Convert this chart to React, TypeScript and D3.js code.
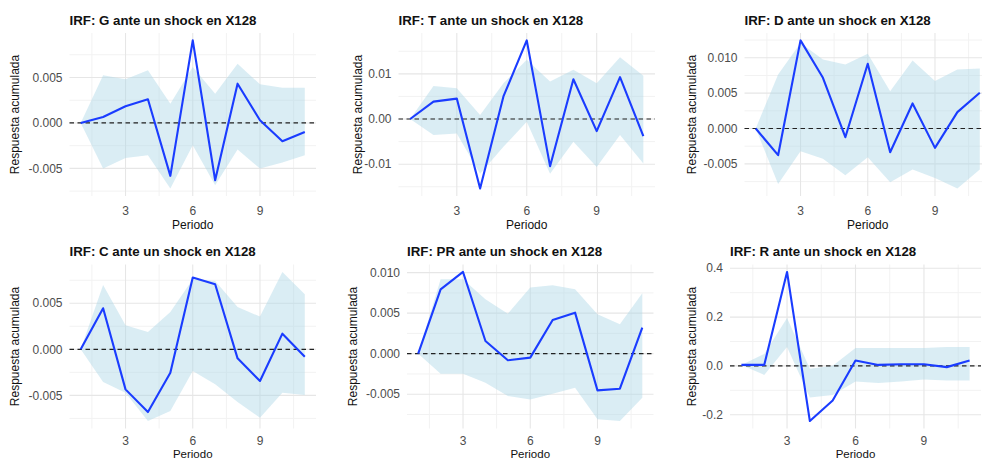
import React from "react";
import * as d3 from "d3";

const periods = [1, 2, 3, 4, 5, 6, 7, 8, 9, 10, 11];
const xTicks = [3, 6, 9];
const xMinor = [1.5, 4.5, 7.5, 10.5];

// G
const gLine = [0, 0.00066, 0.00183, 0.0026, -0.00582, 0.00908, -0.0063, 0.00432, 0.0003, -0.00201, -0.00099];
const gUpper = [0, 0.00524, 0.0048, 0.00579, 0.00212, 0.00615, 0.00322, 0.00652, 0.00425, 0.00388, 0.00388];
const gLower = [0, -0.00502, -0.00385, -0.00355, -0.00722, -0.00245, -0.00685, -0.00293, -0.00502, -0.00436, -0.00355];
// T
const tLine = [0, 0.00385, 0.00452, -0.0154, 0.005, 0.0174, -0.01044, 0.00881, -0.00267, 0.00926, -0.00378];
const tUpper = [0, 0.00733, 0.00681, 0.00089, 0.0079, 0.0131, 0.0083, 0.0109, 0.0079, 0.0137, 0.0096];
const tLower = [0, -0.00356, -0.00319, -0.0121, -0.00615, -0.00059, -0.0121, -0.00504, -0.0106, -0.00356, -0.00985];
// D
const dLine = [0, -0.00377, 0.01245, 0.00717, -0.00123, 0.00915, -0.00335, 0.00354, -0.00274, 0.00231, 0.00505];
const dUpper = [0, 0.00764, 0.0121, 0.00976, 0.00906, 0.01057, 0.00528, 0.00962, 0.0067, 0.00835, 0.00849];
const dLower = [0, -0.00783, -0.00321, -0.00429, -0.0066, -0.00406, -0.0076, -0.0058, -0.00698, -0.00849, -0.0058];
// C
const cLine = [0, 0.00446, -0.00435, -0.00681, -0.00254, 0.00779, 0.00707, -0.00098, -0.00344, 0.0017, -0.0008];
const cUpper = [0, 0.00699, 0.00261, 0.00188, 0.00406, 0.0076, 0.00743, 0.0046, 0.00355, 0.0084, 0.00598];
const cLower = [0, -0.00355, -0.00471, -0.00779, -0.0067, -0.00236, -0.0038, -0.00572, -0.00743, -0.00471, -0.00496];
// PR
const prLine = [0, 0.00794, 0.01008, 0.00156, -0.00082, -0.00049, 0.00416, 0.00506, -0.00453, -0.00432, 0.00321];
const prUpper = [0, 0.00918, 0.00918, 0.00671, 0.00494, 0.00815, 0.00844, 0.00794, 0.00486, 0.00362, 0.00745];
const prLower = [0, -0.00247, -0.00247, -0.00358, -0.00523, -0.00564, -0.00494, -0.0042, -0.0081, -0.00831, -0.00543];
// R
const rLine = [0.004, 0.004, 0.385, -0.226, -0.142, 0.022, 0.004, 0.007, 0.007, -0.005, 0.022];
const rUpper = [0.004, 0.049, 0.196, -0.012, 0.001, 0.073, 0.073, 0.073, 0.073, 0.077, 0.077];
const rLower = [0.004, -0.037, 0.077, -0.129, -0.119, -0.064, -0.07, -0.064, -0.056, -0.06, -0.06];

const ticksSmall = [-0.005, 0, 0.005];
const labelsSmall = ["-0.005", "0.000", "0.005"];
const ticksT = [-0.01, 0, 0.01];
const labelsT = ["-0.01", "0.00", "0.01"];
const ticksMid = [-0.005, 0, 0.005, 0.01];
const labelsMid = ["-0.005", "0.000", "0.005", "0.010"];
const ticksR = [-0.2, 0, 0.2, 0.4];
const labelsR = ["-0.2", "0.0", "0.2", "0.4"];

const titles = [
  "IRF: G ante un shock en X128",
  "IRF: T ante un shock en X128",
  "IRF: D ante un shock en X128",
  "IRF: C ante un shock en X128",
  "IRF: PR ante un shock en X128",
  "IRF: R ante un shock en X128",
];

type Spec = {
  title: string;
  line: number[];
  upper: number[];
  lower: number[];
  yTicks: number[];
  yLabels: string[];
  left: number;
  right: number;
  top: number;
  bottom: number;
  yTitleX: number;
  xTickOff: number;
  xTitleOff: number;
  xTitleSize: number;
};

const FONT = "'Liberation Sans', Arial, sans-serif";

function Panel({ s }: { s: Spec }) {
  const xExt = d3.extent(periods) as [number, number];
  const xPad = (xExt[1] - xExt[0]) * 0.05;
  const x = d3.scaleLinear().domain([xExt[0] - xPad, xExt[1] + xPad]).range([s.left, s.right]);
  const all = [...s.line, ...s.upper, ...s.lower];
  const yExt = d3.extent(all) as [number, number];
  const yPad = (yExt[1] - yExt[0]) * 0.05;
  const y = d3.scaleLinear().domain([yExt[0] - yPad, yExt[1] + yPad]).range([s.bottom, s.top]);
  const step = s.yTicks[1] - s.yTicks[0];
  const yMinor: number[] = [];
  for (let i = -1; i < s.yTicks.length; i++) {
    const v = s.yTicks[0] + step * (i + 0.5);
    const [a, b] = y.domain();
    if (v >= a && v <= b) yMinor.push(v);
  }
  const area = d3
    .area<number>()
    .x((_, i) => x(periods[i]))
    .y0((_, i) => y(s.lower[i]))
    .y1((_, i) => y(s.upper[i]));
  const line = d3
    .line<number>()
    .x((_, i) => x(periods[i]))
    .y((d) => y(d));
  const cy = (s.top + s.bottom) / 2;
  return (
    <g>
      {yMinor.map((v) => (
        <line key={"ym" + v} x1={s.left} x2={s.right} y1={y(v)} y2={y(v)} stroke="#f2f2f2" strokeWidth={1} />
      ))}
      {xMinor.map((v) => (
        <line key={"xm" + v} y1={s.top} y2={s.bottom} x1={x(v)} x2={x(v)} stroke="#f2f2f2" strokeWidth={1} />
      ))}
      {s.yTicks.map((v) => (
        <line key={"yM" + v} x1={s.left} x2={s.right} y1={y(v)} y2={y(v)} stroke="#e6e6e6" strokeWidth={1.1} />
      ))}
      {xTicks.map((v) => (
        <line key={"xM" + v} y1={s.top} y2={s.bottom} x1={x(v)} x2={x(v)} stroke="#e6e6e6" strokeWidth={1.1} />
      ))}
      <path d={area(s.line) || ""} fill="#add8e6" fillOpacity={0.45} />
      <line x1={s.left} x2={s.right} y1={y(0)} y2={y(0)} stroke="#222" strokeWidth={1.2} strokeDasharray="4.5,3.5" />
      <path d={line(s.line) || ""} fill="none" stroke="#1a3cff" strokeWidth={2.1} strokeLinejoin="round" />
      {s.yTicks.map((v, i) => (
        <text key={"yl" + v} x={s.left - 7} y={y(v)} dy="0.35em" textAnchor="end" fontSize={12} fill="#4d4d4d" fontFamily={FONT}>
          {s.yLabels[i]}
        </text>
      ))}
      {xTicks.map((v) => (
        <text key={"xl" + v} x={x(v)} y={s.bottom + s.xTickOff} dy="0.35em" textAnchor="middle" fontSize={12} fill="#4d4d4d" fontFamily={FONT}>
          {v}
        </text>
      ))}
      <text x={(s.left + s.right) / 2} y={s.bottom + s.xTitleOff} dy="0.35em" textAnchor="middle" fontSize={s.xTitleSize} fill="#111" fontFamily={FONT}>
        Periodo
      </text>
      <text
        transform={`translate(${s.yTitleX},${cy}) rotate(-90)`}
        dy="0.35em"
        textAnchor="middle"
        fontSize={12}
        fill="#111"
        fontFamily={FONT}
      >
        Respuesta acumulada
      </text>
      <text x={s.left} y={s.top - 13} dy="0.35em" fontSize={13.3} fontWeight="bold" fill="#111" fontFamily={FONT}>
        {s.title}
      </text>
    </g>
  );
}

export default function App() {
  const r1 = { top: 33, bottom: 196, xTickOff: 14.5, xTitleOff: 28.5, xTitleSize: 12 };
  const r2 = { top: 264.5, bottom: 428.5, xTickOff: 12, xTitleOff: 25.5, xTitleSize: 11.5 };
  const specs: Spec[] = [
    { title: titles[0], line: gLine, upper: gUpper, lower: gLower, yTicks: ticksSmall, yLabels: labelsSmall, left: 69.5, right: 316, ...r1, yTitleX: 15 },
    { title: titles[1], line: tLine, upper: tUpper, lower: tLower, yTicks: ticksT, yLabels: labelsT, left: 398.5, right: 655, ...r1, yTitleX: 358 },
    { title: titles[2], line: dLine, upper: dUpper, lower: dLower, yTicks: ticksMid, yLabels: labelsMid, left: 744.5, right: 991, ...r1, yTitleX: 691.5 },
    { title: titles[3], line: cLine, upper: cUpper, lower: cLower, yTicks: ticksSmall, yLabels: labelsSmall, left: 69.5, right: 316, ...r2, yTitleX: 15 },
    { title: titles[4], line: prLine, upper: prUpper, lower: prLower, yTicks: ticksMid, yLabels: labelsMid, left: 407, right: 653.5, ...r2, yTitleX: 352.5 },
    { title: titles[5], line: rLine, upper: rUpper, lower: rLower, yTicks: ticksR, yLabels: labelsR, left: 730, right: 981, ...r2, yTitleX: 691.5 },
  ];
  return (
    <svg width={982} height={461} style={{ position: "absolute", left: 0, top: 0, background: "#fff" }}>
      <rect width={982} height={461} fill="#fff" />
      {specs.map((s, i) => (
        <Panel key={i} s={s} />
      ))}
    </svg>
  );
}
